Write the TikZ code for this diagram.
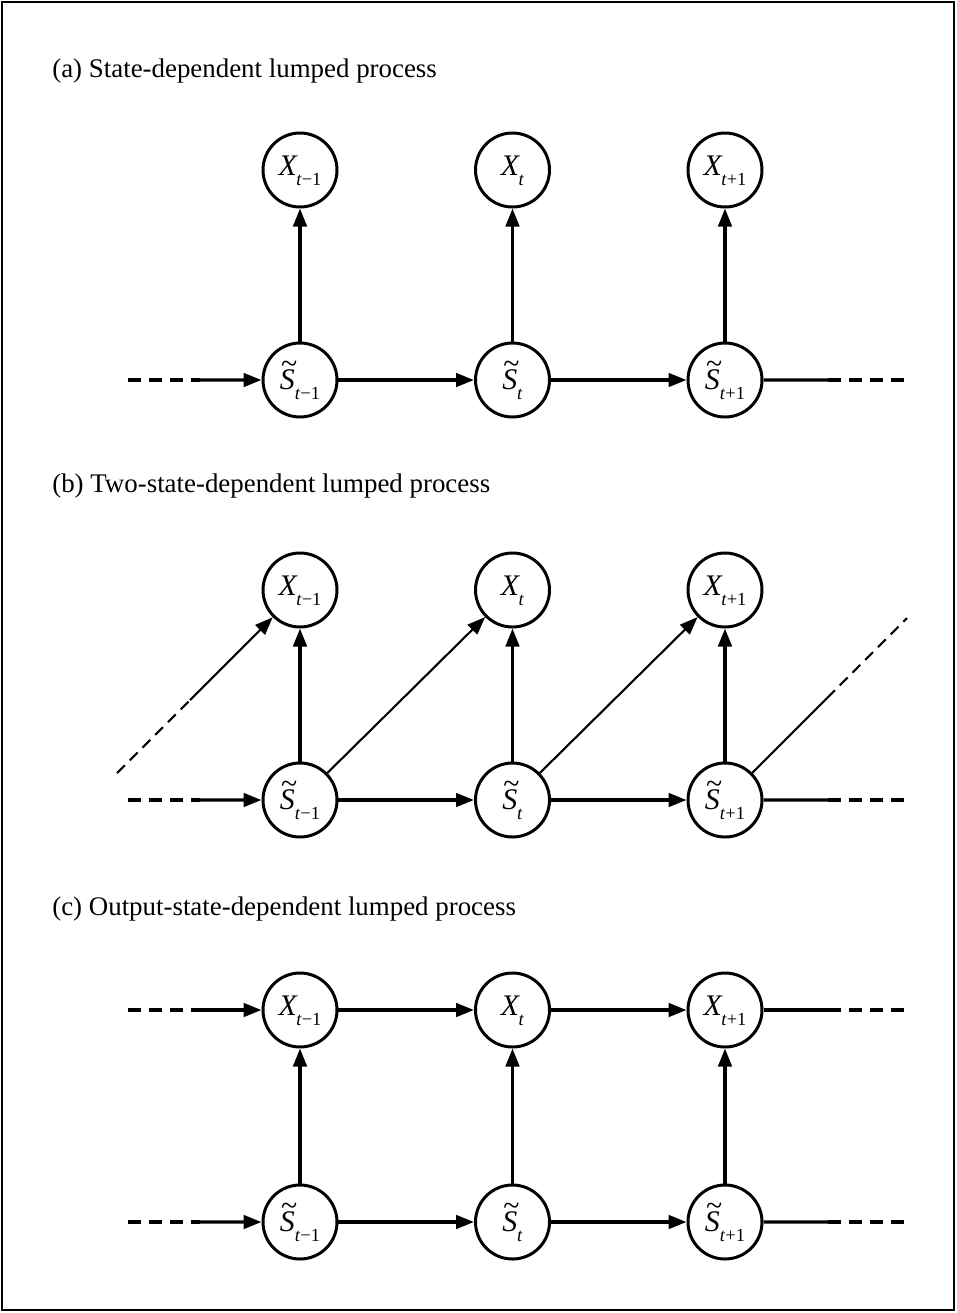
\documentclass[tikz,border=0pt]{standalone}
\usepackage{fontspec}
\setmainfont{Liberation Serif}
\usetikzlibrary{arrows.meta}
\newcommand{\lsub}[1]{\smash{\raisebox{-0.72ex}{\fontsize{10.5pt}{10.5pt}\selectfont #1}}}
\newcommand{\tildeS}{\ooalign{\textit{S}\cr\hidewidth\kern0.12em\smash{\raisebox{0.56em}{\textasciitilde}}\hidewidth\cr}}
\newcommand{\xlab}[1]{\raisebox{0.3em}{\textit{X}\kern-0.05em\lsub{#1}}}
\newcommand{\slab}[1]{\tildeS\lsub{#1}}

\begin{document}
\begin{tikzpicture}[>={Triangle[length=0.36cm,width=0.27cm]}]
\tikzstyle{var} = [circle, draw, line width=1.7pt, minimum size=1.48cm, inner sep=0pt, node distance=4.25cm, font=\fontsize{17pt}{17pt}\selectfont]
\tikzstyle{arc} = [->, line width=1.8pt]
\tikzstyle{diag} = [->, line width=1.2pt]
\tikzstyle{tail} = [dash pattern=on 0.26cm off 0.16cm, line width=1.8pt]
\tikzstyle{thintail} = [dash pattern=on 0.22cm off 0.14cm, line width=1.2pt]
\tikzstyle{title} = [anchor=base west, inner sep=0pt, font=\fontsize{15.3pt}{15.3pt}\selectfont]
\useasboundingbox (0,0) rectangle (19.14,-26.26);
\draw [line width=1.3pt] (0.04,-0.04) rectangle (19.08,-26.2);

% (a)
\node [title] (ta) at (1.04,-1.54) {(a) State-dependent lumped process};
\node [var] (xa0) at (6,-3.4) {\xlab{\textit{t}−1}};
\node [var,right of=xa0] (xa1) {\xlab{\textit{t}}};
\node [var,right of=xa1] (xa2) {\xlab{\textit{t}+1}};
\node [var,below of=xa0,node distance=4.2cm] (sa0) {\slab{\textit{t}−1}};
\node [var,below of=xa1,node distance=4.2cm] (sa1) {\slab{\textit{t}}};
\node [var,below of=xa2,node distance=4.2cm] (sa2) {\slab{\textit{t}+1}};
\coordinate (la0) at (2.56,-7.6);
\coordinate (la1) at (4.0,-7.6);
\coordinate (ra0) at (16.56,-7.6);
\coordinate (ra1) at (18.1,-7.6);
\draw [tail] (la0) -- (la1);
\path (la1) edge [arc] (sa0);
\path (sa0) edge [arc] (sa1);
\path (sa1) edge [arc] (sa2);
\path (sa2) edge [line width=1.8pt] (ra0);
\draw [tail] (ra0) -- (ra1);
\path (sa0) edge [arc] (xa0);
\path (sa1) edge [arc] (xa1);
\path (sa2) edge [arc] (xa2);

% (b)
\node [title] (tb) at (1.04,-9.84) {(b) Two-state-dependent lumped process};
\node [var] (xb0) at (6,-11.8) {\xlab{\textit{t}−1}};
\node [var,right of=xb0] (xb1) {\xlab{\textit{t}}};
\node [var,right of=xb1] (xb2) {\xlab{\textit{t}+1}};
\node [var,below of=xb0,node distance=4.2cm] (sb0) {\slab{\textit{t}−1}};
\node [var,below of=xb1,node distance=4.2cm] (sb1) {\slab{\textit{t}}};
\node [var,below of=xb2,node distance=4.2cm] (sb2) {\slab{\textit{t}+1}};
\coordinate (lb0) at (2.56,-16);
\coordinate (lb1) at (4.0,-16);
\coordinate (rb0) at (16.56,-16);
\coordinate (rb1) at (18.1,-16);
\coordinate (db0) at (2.34,-15.46);
\coordinate (db1) at (3.8,-14.0);
\coordinate (eb0) at (16.54,-13.96);
\coordinate (eb1) at (18.14,-12.36);
\draw [tail] (lb0) -- (lb1);
\path (lb1) edge [arc] (sb0);
\path (sb0) edge [arc] (sb1);
\path (sb1) edge [arc] (sb2);
\path (sb2) edge [line width=1.8pt] (rb0);
\draw [tail] (rb0) -- (rb1);
\path (sb0) edge [arc] (xb0);
\path (sb1) edge [arc] (xb1);
\path (sb2) edge [arc] (xb2);
\draw [thintail] (db0) -- (db1);
\path (db1) edge [diag] (xb0);
\path (sb0) edge [diag] (xb1);
\path (sb1) edge [diag] (xb2);
\path (sb2) edge [line width=1.2pt] (eb0);
\draw [thintail] (eb0) -- (eb1);

% (c)
\node [title] (tc) at (1.04,-18.3) {(c) Output-state-dependent lumped process};
\node [var] (xc0) at (6,-20.2) {\xlab{\textit{t}−1}};
\node [var,right of=xc0] (xc1) {\xlab{\textit{t}}};
\node [var,right of=xc1] (xc2) {\xlab{\textit{t}+1}};
\node [var,below of=xc0,node distance=4.24cm] (sc0) {\slab{\textit{t}−1}};
\node [var,below of=xc1,node distance=4.24cm] (sc1) {\slab{\textit{t}}};
\node [var,below of=xc2,node distance=4.24cm] (sc2) {\slab{\textit{t}+1}};
\coordinate (lc0) at (2.56,-20.2);
\coordinate (lc1) at (4.0,-20.2);
\coordinate (rc0) at (16.56,-20.2);
\coordinate (rc1) at (18.1,-20.2);
\coordinate (lc2) at (2.56,-24.44);
\coordinate (lc3) at (4.0,-24.44);
\coordinate (rc2) at (16.56,-24.44);
\coordinate (rc3) at (18.1,-24.44);
\draw [tail] (lc0) -- (lc1);
\path (lc1) edge [arc] (xc0);
\path (xc0) edge [arc] (xc1);
\path (xc1) edge [arc] (xc2);
\path (xc2) edge [line width=1.8pt] (rc0);
\draw [tail] (rc0) -- (rc1);
\draw [tail] (lc2) -- (lc3);
\path (lc3) edge [arc] (sc0);
\path (sc0) edge [arc] (sc1);
\path (sc1) edge [arc] (sc2);
\path (sc2) edge [line width=1.8pt] (rc2);
\draw [tail] (rc2) -- (rc3);
\path (sc0) edge [arc] (xc0);
\path (sc1) edge [arc] (xc1);
\path (sc2) edge [arc] (xc2);
\end{tikzpicture}
\end{document}
